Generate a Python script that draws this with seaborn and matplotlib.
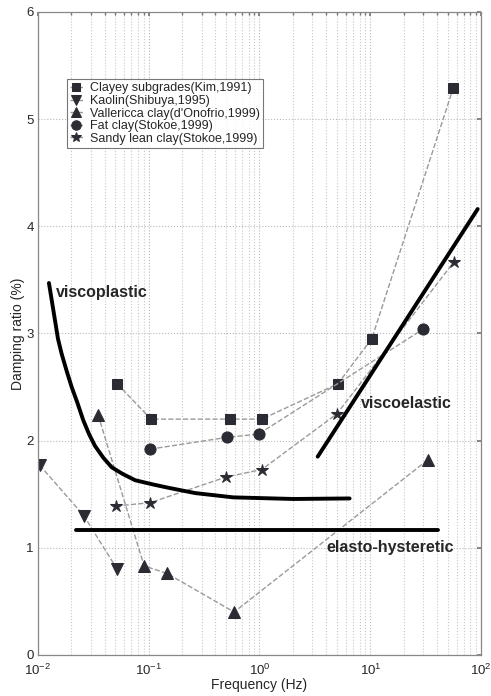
import numpy as np
import pandas as pd
import matplotlib
matplotlib.use("Agg")
import matplotlib.pyplot as plt
import seaborn as sns

# Measured damping data (frequency in Hz, damping ratio in %)
clayey_f = [0.052, 0.105, 0.54, 1.05, 5.1, 10.3, 56]
clayey_d = [2.53, 2.20, 2.20, 2.20, 2.53, 2.95, 5.29]

kaolin_f = [0.0104, 0.026, 0.052]
kaolin_d = [1.77, 1.30, 0.80]

valle_f = [0.035, 0.091, 0.147, 0.59, 33]
valle_d = [2.24, 0.83, 0.76, 0.40, 1.82]

fat_f = [0.103, 0.51, 0.98, 30]
fat_d = [1.92, 2.03, 2.06, 3.04]

sandy_f = [0.051, 0.103, 0.50, 1.05, 5.0, 57]
sandy_d = [1.39, 1.42, 1.66, 1.73, 2.25, 3.67]

# Hand-drawn trend curves
viscoplastic_f = [0.0126, 0.0134, 0.0143, 0.0152, 0.0164, 0.0182, 0.0202,
                  0.0228, 0.0257, 0.029, 0.0328, 0.039, 0.0465, 0.058,
                  0.0755, 0.11, 0.15, 0.263, 0.58, 2.03, 6.5]
viscoplastic_d = [3.47, 3.30, 3.12, 2.95, 2.81, 2.65, 2.50,
                  2.35, 2.19, 2.06, 1.95, 1.84, 1.75, 1.69,
                  1.63, 1.59, 1.56, 1.51, 1.47, 1.455, 1.46]
viscoelastic_f = [3.35, 93]
viscoelastic_d = [1.85, 4.16]
elasto_f = [0.022, 41]
elasto_d = [1.165, 1.165]

series = [
    ("Clayey subgrades(Kim,1991)", clayey_f, clayey_d, "s", 7),
    ("Kaolin(Shibuya,1995)", kaolin_f, kaolin_d, "v", 9),
    ("Vallericca clay(d'Onofrio,1999)", valle_f, valle_d, "^", 9),
    ("Fat clay(Stokoe,1999)", fat_f, fat_d, "o", 8),
    ("Sandy lean clay(Stokoe,1999)", sandy_f, sandy_d, "*", 9),
]

sns.set_theme(style="white")
plt.rcParams['font.family'] = ['Liberation Sans', 'DejaVu Sans']

fig = plt.figure(figsize=(4.91, 6.96), dpi=100)
ax = fig.add_axes([0.077, 0.059, 0.903, 0.924])

mark_col = "#2b2b33"
for name, f, d, m, ms in series:
    df = pd.DataFrame({"f": f, "d": d})
    sns.lineplot(data=df, x="f", y="d", ax=ax, color="#9a9a9a", linestyle="--",
                 linewidth=1.0, marker=m, markersize=ms, markerfacecolor=mark_col,
                 markeredgecolor=mark_col, label=name, sort=False)

for f, d in [(viscoplastic_f, viscoplastic_d), (viscoelastic_f, viscoelastic_d),
             (elasto_f, elasto_d)]:
    sns.lineplot(x=f, y=d, ax=ax, color="black", linewidth=2.8, sort=False,
                 legend=False, solid_joinstyle="round")

ax.set_xscale("log")
ax.set_xlim(0.01, 100)
ax.set_ylim(0, 6)
ax.set_yticks([0, 1, 2, 3, 4, 5, 6])
ax.set_xticks([0.01, 0.1, 1, 10, 100])
ax.grid(True, which="major", axis="both", linestyle=":", color="#b8b8b8", linewidth=0.8)
ax.grid(True, which="minor", axis="x", linestyle=":", color="#c8c8c8", linewidth=0.8)
ax.tick_params(which="both", direction="in", top=True, right=True, labelsize=9.5,
               color="#777777", length=3, pad=3)
ax.tick_params(which="minor", length=2)
ax.tick_params(axis="x", pad=6)
for sp in ax.spines.values():
    sp.set_color("#888888")
    sp.set_linewidth(0.9)

ax.set_xlabel("Frequency (Hz)", fontsize=10, labelpad=0)
ax.set_ylabel("Damping ratio (%)", fontsize=10, labelpad=1)

ax.text(0.0145, 3.38, "viscoplastic", fontsize=11.5, fontweight="bold", va="center")
ax.text(8.3, 2.35, "viscoelastic", fontsize=11.5, fontweight="bold", va="center")
ax.text(4.0, 1.0, "elasto-hysteretic", fontsize=11.5, fontweight="bold", va="center")

leg = ax.legend(loc="upper left", bbox_to_anchor=(0.052, 0.905), fontsize=9,
                handlelength=1.0, handletextpad=0.6, labelspacing=0.05,
                borderpad=0.25, markerscale=0.85, frameon=True, fancybox=False,
                edgecolor="#555555")
leg.get_frame().set_linewidth(0.8)

plt.savefig("out.png", dpi=100)
plt.close()
